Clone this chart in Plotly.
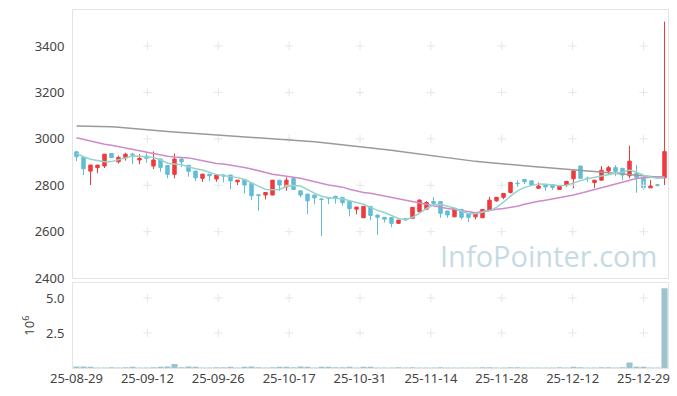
import plotly.graph_objects as go

# ---------------- data ----------------
tick_labels = ["25-08-29", "25-09-12", "25-09-26", "25-10-17", "25-10-31",
               "25-11-14", "25-11-28", "25-12-12", "25-12-29"]
tick_index = [0, 10.125, 20.25, 30.375, 40.5, 50.625, 60.75, 70.875, 81]

opens = [2944, 2920, 2861, 2876, 2883, 2937, 2901, 2918, 2934, 2909,
         2926, 2883, 2913, 2885, 2847, 2913, 2886, 2861, 2830, 2848,
         2827, 2844, 2844, 2815, 2825, 2808, 2759, 2758, 2758, 2822,
         2793, 2829, 2776, 2762, 2758, 2741, 2747, 2753, 2748, 2731,
         2697, 2660, 2709, 2672, 2662, 2661, 2636, 2656, 2658, 2686,
         2697, 2730, 2730, 2689, 2664, 2696, 2676, 2664, 2660, 2693,
         2733, 2748, 2769, 2809, 2825, 2819, 2787, 2804, 2803, 2782,
         2801, 2828, 2883, 2831, 2812, 2822, 2861, 2876, 2873, 2841,
         2851, 2832, 2789, 2802, 2832]
highs = [2948, 2922, 2888, 2888, 2935, 2938, 2927, 2940, 2940, 2934,
         2940, 2946, 2914, 2886, 2937, 2917, 2887, 2862, 2849, 2849,
         2845, 2848, 2845, 2823, 2826, 2809, 2762, 2770, 2823, 2823,
         2834, 2830, 2777, 2763, 2759, 2744, 2748, 2754, 2749, 2732,
         2707, 2710, 2710, 2673, 2663, 2662, 2651, 2658, 2706, 2740,
         2732, 2750, 2731, 2690, 2700, 2697, 2677, 2680, 2697, 2750,
         2750, 2766, 2815, 2822, 2826, 2820, 2812, 2805, 2804, 2800,
         2818, 2863, 2884, 2837, 2823, 2883, 2883, 2887, 2874, 2970,
         2887, 2833, 2822, 2805, 3505]
lows = [2904, 2844, 2801, 2852, 2874, 2918, 2894, 2906, 2891, 2891,
        2897, 2870, 2858, 2830, 2830, 2878, 2837, 2818, 2815, 2819,
        2815, 2813, 2782, 2801, 2765, 2736, 2690, 2739, 2757, 2776,
        2776, 2781, 2748, 2675, 2718, 2581, 2719, 2721, 2712, 2666,
        2675, 2659, 2650, 2586, 2639, 2619, 2635, 2648, 2657, 2685,
        2696, 2718, 2660, 2660, 2663, 2653, 2641, 2653, 2659, 2692,
        2729, 2740, 2765, 2793, 2805, 2800, 2786, 2776, 2780, 2781,
        2794, 2787, 2829, 2815, 2789, 2821, 2847, 2839, 2822, 2830,
        2768, 2779, 2788, 2795, 2801]
closes = [2923, 2871, 2887, 2887, 2934, 2919, 2920, 2934, 2930, 2916,
          2916, 2909, 2877, 2847, 2913, 2901, 2860, 2832, 2848, 2841,
          2844, 2840, 2819, 2822, 2801, 2755, 2756, 2769, 2822, 2801,
          2822, 2782, 2758, 2733, 2746, 2739, 2745, 2743, 2725, 2699,
          2706, 2709, 2670, 2662, 2654, 2636, 2650, 2651, 2705, 2736,
          2726, 2722, 2679, 2672, 2699, 2662, 2662, 2679, 2696, 2736,
          2748, 2765, 2812, 2807, 2815, 2801, 2797, 2793, 2791, 2799,
          2817, 2862, 2830, 2829, 2822, 2865, 2876, 2859, 2844, 2904,
          2834, 2789, 2797, 2800, 2945]

ma5 = [2938, 2923, 2912, 2906, 2901, 2902, 2909, 2918, 2926, 2925,
       2923, 2920, 2910, 2895, 2892, 2888, 2880, 2871, 2866, 2856,
       2846, 2842, 2838, 2833, 2825, 2810, 2794, 2782, 2781, 2782,
       2795, 2799, 2797, 2780, 2766, 2753, 2746, 2743, 2742, 2733,
       2727, 2718, 2705, 2692, 2683, 2670, 2657, 2652, 2662, 2680,
       2700, 2716, 2718, 2710, 2702, 2689, 2677, 2677, 2682, 2690,
       2705, 2727, 2753, 2776, 2791, 2800, 2806, 2804, 2800, 2798,
       2800, 2811, 2820, 2828, 2834, 2842, 2846, 2852, 2856, 2866,
       2856, 2843, 2836, 2830, 2832]
ma20 = [3005, 2998, 2990, 2982, 2977, 2972, 2966, 2961, 2955, 2949,
        2942, 2936, 2930, 2925, 2922, 2920, 2918, 2912, 2905, 2898,
        2894, 2892, 2888, 2883, 2877, 2870, 2862, 2854, 2848, 2843,
        2839, 2835, 2830, 2823, 2815, 2807, 2801, 2797, 2792, 2783,
        2775, 2769, 2766, 2760, 2753, 2746, 2740, 2734, 2729, 2722,
        2716, 2711, 2706, 2700, 2696, 2691, 2685, 2682, 2687, 2693,
        2697, 2700, 2704, 2710, 2718, 2726, 2731, 2736, 2741, 2747,
        2752, 2758, 2766, 2774, 2782, 2790, 2798, 2806, 2814, 2822,
        2829, 2832, 2835, 2836, 2837]
ma120 = [3055, 3055, 3054, 3054, 3053, 3052, 3050, 3047, 3044, 3041,
         3038, 3036, 3034, 3032, 3030, 3028, 3026, 3024, 3022, 3020,
         3017, 3015, 3013, 3011, 3009, 3007, 3005, 3003, 3001, 2999,
         2997, 2995, 2992, 2990, 2987, 2984, 2981, 2978, 2975, 2972,
         2969, 2966, 2962, 2959, 2955, 2951, 2947, 2943, 2938, 2934,
         2929, 2925, 2920, 2916, 2912, 2909, 2906, 2903, 2900, 2897,
         2895, 2892, 2889, 2887, 2885, 2882, 2879, 2877, 2875, 2873,
         2870, 2868, 2865, 2862, 2859, 2856, 2853, 2850, 2848, 2846,
         2843, 2840, 2838, 2836, 2834]

volumes = [110000, 105000, 95000, 40000, 35000, 45000, 30000, 50000, 90000, 40000,
           35000, 60000, 95000, 100000, 290000, 55000, 100000, 95000, 40000, 35000,
           50000, 45000, 85000, 40000, 95000, 100000, 60000, 40000, 45000, 90000,
           95000, 50000, 100000, 90000, 40000, 95000, 90000, 45000, 50000, 85000,
           40000, 95000, 90000, 40000, 35000, 30000, 45000, 40000, 50000, 35000,
           30000, 40000, 45000, 35000, 30000, 40000, 35000, 30000, 45000, 50000,
           40000, 35000, 55000, 45000, 40000, 35000, 30000, 40000, 35000, 45000,
           40000, 85000, 55000, 40000, 35000, 45000, 50000, 40000, 55000, 400000,
           95000, 90000, 40000, 35000, 5700000]

price_ticks = [2400, 2600, 2800, 3000, 3200, 3400]
vol_ticks = [2.5e6, 5.0e6]
vol_tick_text = ["2.5", "5.0"]

# ---------------- styling ----------------
RED = "#ef3a3e"
BLUE = "#62bdd6"
AXIS = "#e4e4e4"
CROSS = "#e6e6e6"
FONT = dict(family="Noto Sans, DejaVu Sans, sans-serif", size=13, color="#444444")

xs = list(range(len(closes)))

fig = go.Figure()
# faint "+" markers at grid intersections (drawn first, beneath the data)
gx, gy = [], []
for tx in tick_index[1:]:
    for ty in price_ticks[1:]:
        gx.append(tx); gy.append(ty)
fig.add_trace(go.Scatter(x=gx, y=gy, mode="markers",
                         marker=dict(symbol="cross-thin", size=6, line=dict(color=CROSS, width=1)),
                         hoverinfo="skip", showlegend=False, xaxis="x", yaxis="y"))
gx2, gy2 = [], []
for tx in tick_index[1:]:
    for ty in vol_ticks:
        gx2.append(tx); gy2.append(ty)
fig.add_trace(go.Scatter(x=gx2, y=gy2, mode="markers",
                         marker=dict(symbol="cross-thin", size=6, line=dict(color=CROSS, width=1)),
                         hoverinfo="skip", showlegend=False, xaxis="x2", yaxis="y2"))

fig.add_trace(go.Candlestick(
    x=xs, open=opens, high=highs, low=lows, close=closes,
    increasing=dict(line=dict(color=RED, width=1), fillcolor=RED),
    decreasing=dict(line=dict(color=BLUE, width=1), fillcolor=BLUE),
    whiskerwidth=0, hoverinfo="skip", showlegend=False,
    xaxis="x", yaxis="y"))

for vals, col in [(ma120, "#9a9a9a"), (ma20, "#cd8cc8"), (ma5, "#93d4c9")]:
    fig.add_trace(go.Scatter(x=xs, y=vals, mode="lines",
                             line=dict(color=col, width=1.5),
                             hoverinfo="skip", showlegend=False,
                             xaxis="x", yaxis="y"))

fig.add_trace(go.Bar(x=xs, y=volumes, marker=dict(color="#9dc3ce", line=dict(width=0)),
                     hoverinfo="skip", showlegend=False, xaxis="x2", yaxis="y2"))

xr = [-0.5, len(closes) - 0.5]
common_x = dict(range=xr, showgrid=False, zeroline=False, showline=True,
                linecolor=AXIS, linewidth=1, mirror=True, fixedrange=True,
                tickvals=tick_index, automargin=False)

fig.update_layout(
    width=677, height=396, autosize=False,
    margin=dict(l=73, r=9, t=10, b=28, autoexpand=False),
    paper_bgcolor="white", plot_bgcolor="white",
    font=FONT,
    bargap=0.12,
    xaxis=dict(domain=[0, 1], anchor="y", showticklabels=False,
               rangeslider=dict(visible=False), **common_x),
    yaxis=dict(domain=[0.251, 1], range=[2400, 3555], tickvals=price_ticks,
               showgrid=False, zeroline=False, showline=True, linecolor=AXIS,
               mirror=True, ticks="", ticklabelstandoff=5, tickfont=FONT,
               automargin=False, fixedrange=True),
    xaxis2=dict(domain=[0, 1], anchor="y2", ticktext=tick_labels, ticks="",
                tickfont=FONT, ticklabelstandoff=-2, **common_x),
    yaxis2=dict(domain=[0, 0.237], range=[0, 6.06e6], tickvals=vol_ticks,
                ticktext=vol_tick_text, showgrid=False, zeroline=False,
                showline=True, linecolor=AXIS, mirror=True, ticks="",
                ticklabelstandoff=5, tickfont=FONT, automargin=False,
                fixedrange=True,
                title=dict(text="10<sup>6</sup>", font=FONT, standoff=8)),
    annotations=[dict(text="InfoPointer.com", xref="paper", yref="paper",
                      x=0.985, y=0.313, xanchor="right", yanchor="middle",
                      showarrow=False,
                      font=dict(family="Open Sans, Noto Sans, sans-serif",
                                size=29, color="#c6dae4"))],
)

fig.write_html(
    "out.html",
    config={"displayModeBar": False, "staticPlot": True},
    post_script="document.body.style.margin='0';document.body.style.overflow='hidden';",
)
